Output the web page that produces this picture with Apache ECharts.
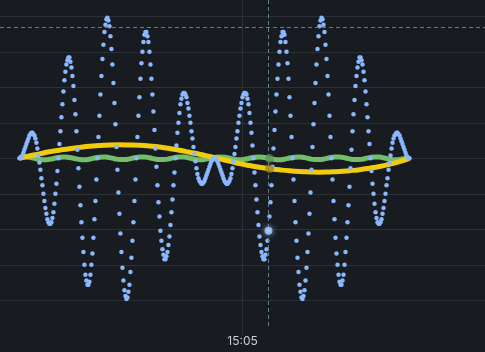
<!DOCTYPE html>
<html>
<head>
<meta charset="utf-8">
<script src="https://cdn.jsdelivr.net/npm/echarts@6/dist/echarts.min.js"></script>
<style>
  html, body { margin: 0; padding: 0; background: #181b1f; }
  #chart { width: 485px; height: 352px; }
</style>
</head>
<body>
<div id="chart"></div>
<script>
// first sample at 15:04:04.8 (seconds since midnight), one sample every 0.2475 s
const startTime = 54244.8
const stepSec = 0.2475

// blue points, one value per sample
const waveValues = [
  0,0,1,2,4,6,8,10,12,14,16,17,18,18,17,16,14,11,7,2,
  -3,-8,-14,-19,-25,-30,-35,-39,-43,-45,-46,-46,-45,-42,-38,-32,-25,-18,-9,
  0,10,19,29,38,47,55,61,66,69,71,71,68,64,58,51,41,31,19,6,
  -7,-20,-33,-45,-56,-66,-75,-82,-86,-89,-89,-87,-82,-75,-67,-56,-43,-30,-15,
  0,15,30,45,58,70,80,89,94,98,99,97,93,86,77,66,53,39,24,8,
  -8,-24,-39,-53,-66,-77,-86,-93,-97,-99,-98,-94,-89,-80,-70,-58,-45,-30,-15,0,
  15,30,43,56,67,75,82,87,89,89,86,82,75,66,56,45,33,20,7,
  -6,-19,-31,-41,-51,-58,-64,-68,-71,-71,-69,-66,-61,-55,-47,-38,-29,-19,-10,0,
  9,18,25,32,38,42,45,46,46,45,43,39,35,30,25,19,14,8,3,
  -2,-7,-11,-14,-16,-17,-18,-18,-17,-16,-14,-12,-10,-8,-6,-4,-2,-1,0,0,
  0,-1,-2,-4,-6,-8,-10,-12,-14,-16,-17,-18,-18,-17,-16,-14,-11,-7,-2,
  3,8,14,19,25,30,35,39,43,45,46,46,45,42,38,32,25,18,9,
  0,-10,-19,-29,-38,-47,-55,-61,-66,-69,-71,-71,-68,-64,-58,-51,-41,-31,-19,-6,
  7,20,33,45,56,66,75,82,86,89,89,87,82,75,67,56,43,30,15,
  0,-15,-30,-45,-58,-70,-80,-89,-94,-98,-99,-97,-93,-86,-77,-66,-53,-39,-24,-8,
  8,24,39,53,66,77,86,93,97,99,98,94,89,80,70,58,45,30,15,0,
  -15,-30,-43,-56,-67,-75,-82,-87,-89,-89,-86,-82,-75,-66,-56,-45,-33,-20,-7,
  6,19,31,41,51,58,64,68,71,71,69,66,61,55,47,38,29,19,10,0,
  -9,-18,-25,-32,-38,-42,-45,-46,-46,-45,-43,-39,-35,-30,-25,-19,-14,-8,-3,
  2,7,11,14,16,17,18,18,17,16,14,12,10,8,6,4,2,1,0,0
]

// yellow trend, one value every 10 samples
const trendEvery = 10
const trendValues = [
  0, 1.6, 3.1, 4.6, 5.7, 6.8, 7.7, 8.5, 9.0, 9.4, 9.5, 9.4, 9.2, 8.7, 8.0, 6.9, 5.7, 4.3, 2.9, 1.3,
  -0.4, -2.0, -3.7, -5.1, -6.3, -7.3, -8.1, -8.8, -9.3, -9.6, -9.8, -9.6, -9.3, -8.7, -8.0, -7.0, -5.8, -4.2, -2.3, 0
]

// green ripple, one value every 5 samples
const rippleEvery = 5
const rippleValues = [
  0.6, 1.0, 0.8, 0, -0.7, -1.0, -0.7, 0, 0.8, 1.0, 0.6, -0.1, -0.8, -1.0, -0.6, 0.2, 0.8, 1.0, 0.5, -0.3,
  -0.9, -0.9, -0.4, 0.4, 0.9, 0.9, 0.4, -0.4, -0.9, -0.9, -0.3, 0.5, 1.0, 0.9, 0.2, -0.6, -1.0, -0.8, -0.1,
  0.6, 1.0, 0.8, 0, -0.7, -1.0, -0.7, 0, 0.8, 1.0, 0.6, -0.1, -0.8, -1.0, -0.6, 0.2, 0.8, 1.0, 0.5, -0.3,
  -0.9, -0.9, -0.4, 0.4, 0.9, 0.9, 0.4, -0.4, -0.9, -0.9, -0.3, 0.5, 1.0, 0.9, 0.2, -0.6, -1.0, -0.8, -0.1,
  0.6
]

// hovered sample and mouse height (crosshair)
const cursorIndex = 249
const cursorValue = 92.3

const gridColor = '#2c2f34'
const crossColor = '#647c8c'

const timeAt = i => startTime + i * stepSec
const hhmm = sec => {
  const h = Math.floor(sec / 3600)
  const m = Math.floor((sec % 3600) / 60)
  return String(h).padStart(2, '0') + ':' + String(m).padStart(2, '0')
}

const chart = echarts.init(document.getElementById('chart'))

const cursorTime = timeAt(cursorIndex)
const trendIdx = Math.round(cursorIndex / trendEvery)
const rippleIdx = Math.round(cursorIndex / rippleEvery)

chart.setOption({
  backgroundColor: '#181b1f',
  animation: false,
  grid: { left: 0, right: 0, top: 0, bottom: 16.2 },
  xAxis: {
    type: 'value',
    min: 54240,
    max: 54360,
    interval: 60,
    axisLine: { show: false },
    axisTick: { show: false },
    splitLine: { show: true, showMinLine: false, showMaxLine: false, lineStyle: { color: gridColor, width: 1 } },
    axisLabel: {
      formatter: hhmm,
      showMinLabel: false,
      showMaxLabel: false,
      color: '#ccccdc',
      fontSize: 12,
      fontFamily: 'Inter',
      verticalAlign: 'middle',
      margin: 6
    }
  },
  yAxis: {
    type: 'value',
    min: -125,
    max: 111.5,
    interval: 25,
    axisLine: { show: false },
    axisTick: { show: false },
    axisLabel: { show: false },
    splitLine: { show: true, showMinLine: false, showMaxLine: false, lineStyle: { color: gridColor, width: 1 } }
  },
  series: [
    {
      name: 'ripple',
      type: 'line',
      smooth: true,
      showSymbol: false,
      z: 2,
      lineStyle: { color: '#73bf69', width: 5 },
      data: rippleValues.map((v, k) => [timeAt(k * rippleEvery), v])
    },
    {
      name: 'trend',
      type: 'line',
      smooth: true,
      showSymbol: false,
      z: 3,
      lineStyle: { color: '#f2cc0c', width: 5 },
      data: trendValues.map((v, k) => [timeAt(k * trendEvery), v])
    },
    {
      name: 'wave',
      type: 'scatter',
      z: 4,
      symbolSize: 4.5,
      itemStyle: { color: '#8ab8ff', opacity: 1 },
      data: waveValues.map((v, i) => [timeAt(i), v]),
      markLine: {
        silent: true,
        symbol: 'none',
        label: { show: false },
        lineStyle: { color: crossColor, type: [4, 3], width: 1 },
        data: [
          [{ coord: [cursorTime, 111.5] }, { coord: [cursorTime, -119] }],
          { yAxis: cursorValue }
        ]
      }
    },
    {
      name: 'hover',
      type: 'scatter',
      z: 5,
      silent: true,
      data: [
        { value: [timeAt(rippleIdx * rippleEvery), rippleValues[rippleIdx]], symbolSize: 9, itemStyle: { color: 'rgba(95,140,85,0.8)' } },
        { value: [timeAt(trendIdx * trendEvery), trendValues[trendIdx]], symbolSize: 9, itemStyle: { color: 'rgba(150,125,20,0.8)' } },
        { value: [cursorTime, waveValues[cursorIndex]], symbolSize: 8, itemStyle: { color: '#a9ccff', shadowBlur: 6, shadowColor: '#8ab8ff' } }
      ]
    }
  ]
})
</script>
</body>
</html>
